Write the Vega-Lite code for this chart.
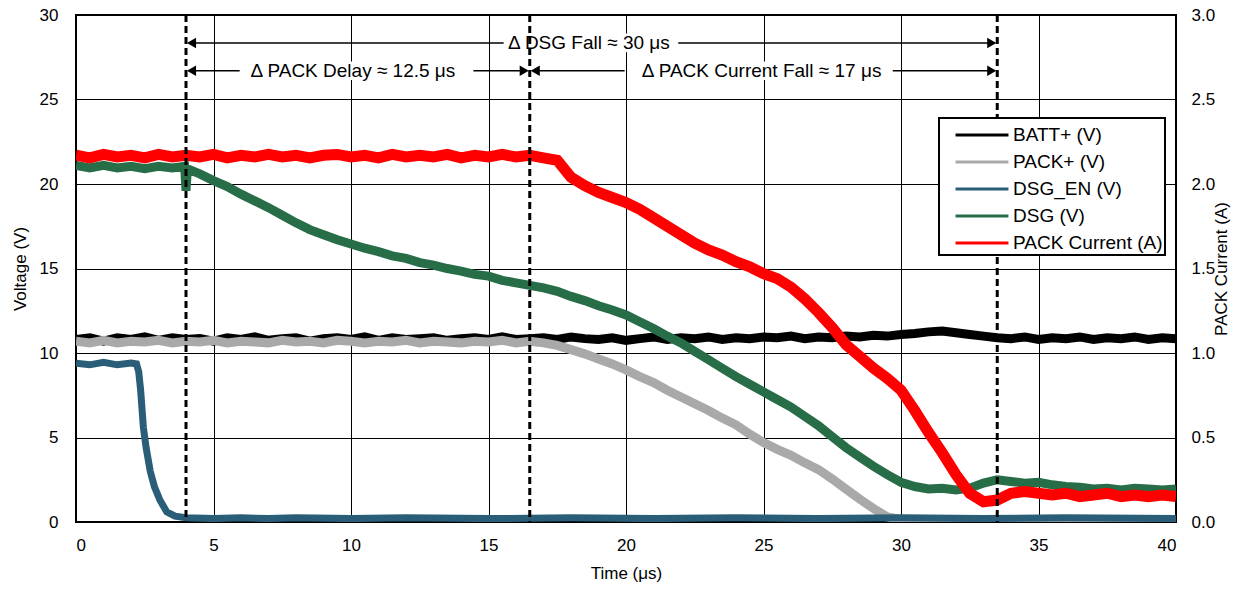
{
  "$schema": "https://vega.github.io/schema/vega-lite/v6.json",
  "width": 1100,
  "height": 507,
  "autosize": {"type": "none"},
  "padding": {"left": 76, "top": 15, "right": 81, "bottom": 68},
  "config": {
    "font": "Liberation Sans",
    "view": {"stroke": "#000", "strokeWidth": 2},
    "axis": {
      "labelFont": "Liberation Sans", "titleFont": "Liberation Sans",
      "labelFontSize": 17, "titleFontSize": 17,
      "labelColor": "#000", "titleColor": "#000", "titleFontWeight": "normal",
      "ticks": false, "tickSize": 0, "domain": false,
      "gridColor": "#000", "gridOpacity": 1, "gridWidth": 1
    },
    "legend": {
      "orient": "none", "legendX": 863, "legendY": 103,
      "fillColor": "#fff", "strokeColor": "#000", "strokeWidth": 2,
      "padding": 2, "labelFontSize": 19, "labelFont": "Liberation Sans", "labelColor": "#000",
      "symbolType": "M-2,0H2", "symbolSize": 700, "symbolStrokeWidth": 3, "symbolOffset": 26, "rowPadding": 2, "labelOffset": 16
    }
  },
  "datasets": {
    "batt": [
      {"t":0,"v":10.8},{"t":0.5,"v":10.9},{"t":1,"v":10.7},{"t":1.5,"v":10.9},{"t":2,"v":10.8},{"t":2.5,"v":10.95},{"t":3,"v":10.75},{"t":3.5,"v":10.9},{"t":4,"v":10.8},{"t":4.5,"v":10.85},
      {"t":5,"v":10.7},{"t":5.5,"v":10.9},{"t":6,"v":10.8},{"t":6.5,"v":10.95},{"t":7,"v":10.75},{"t":7.5,"v":10.85},{"t":8,"v":10.9},{"t":8.5,"v":10.7},{"t":9,"v":10.85},{"t":9.5,"v":10.9},
      {"t":10,"v":10.8},{"t":10.5,"v":10.95},{"t":11,"v":10.75},{"t":11.5,"v":10.9},{"t":12,"v":10.8},{"t":12.5,"v":10.85},{"t":13,"v":10.9},{"t":13.5,"v":10.75},{"t":14,"v":10.85},{"t":14.5,"v":10.9},
      {"t":15,"v":10.8},{"t":15.5,"v":10.95},{"t":16,"v":10.8},{"t":16.5,"v":10.85},{"t":17,"v":10.9},{"t":17.5,"v":10.8},{"t":18,"v":10.95},{"t":18.5,"v":10.85},{"t":19,"v":10.8},{"t":19.5,"v":10.9},
      {"t":20,"v":10.75},{"t":20.5,"v":10.85},{"t":21,"v":10.95},{"t":21.5,"v":10.8},{"t":22,"v":10.9},{"t":22.5,"v":10.85},{"t":23,"v":10.95},{"t":23.5,"v":10.8},{"t":24,"v":10.9},{"t":24.5,"v":10.85},
      {"t":25,"v":10.95},{"t":25.5,"v":10.9},{"t":26,"v":11.0},{"t":26.5,"v":10.85},{"t":27,"v":10.95},{"t":27.5,"v":10.9},{"t":28,"v":11.0},{"t":28.5,"v":10.95},{"t":29,"v":11.05},{"t":29.5,"v":11.0},
      {"t":30,"v":11.1},{"t":30.5,"v":11.15},{"t":31,"v":11.25},{"t":31.5,"v":11.3},{"t":32,"v":11.2},{"t":32.5,"v":11.1},{"t":33,"v":11.0},{"t":33.5,"v":10.9},{"t":34,"v":10.85},{"t":34.5,"v":10.95},
      {"t":35,"v":10.8},{"t":35.5,"v":10.9},{"t":36,"v":10.85},{"t":36.5,"v":10.95},{"t":37,"v":10.8},{"t":37.5,"v":10.9},{"t":38,"v":10.85},{"t":38.5,"v":10.95},{"t":39,"v":10.8},{"t":39.5,"v":10.9},{"t":40,"v":10.85}
    ],
    "pack": [
      {"t":0,"v":10.7},{"t":0.5,"v":10.6},{"t":1,"v":10.75},{"t":1.5,"v":10.6},{"t":2,"v":10.7},{"t":2.5,"v":10.65},{"t":3,"v":10.75},{"t":3.5,"v":10.6},{"t":4,"v":10.7},{"t":4.5,"v":10.65},
      {"t":5,"v":10.75},{"t":5.5,"v":10.6},{"t":6,"v":10.7},{"t":6.5,"v":10.65},{"t":7,"v":10.6},{"t":7.5,"v":10.75},{"t":8,"v":10.65},{"t":8.5,"v":10.7},{"t":9,"v":10.6},{"t":9.5,"v":10.75},
      {"t":10,"v":10.7},{"t":10.5,"v":10.6},{"t":11,"v":10.7},{"t":11.5,"v":10.65},{"t":12,"v":10.75},{"t":12.5,"v":10.6},{"t":13,"v":10.7},{"t":13.5,"v":10.65},{"t":14,"v":10.6},{"t":14.5,"v":10.7},
      {"t":15,"v":10.65},{"t":15.5,"v":10.75},{"t":16,"v":10.6},{"t":16.5,"v":10.7},{"t":17,"v":10.6},{"t":17.5,"v":10.45},{"t":18,"v":10.2},{"t":18.5,"v":9.95},{"t":19,"v":9.65},{"t":19.5,"v":9.35},
      {"t":20,"v":9.0},{"t":20.5,"v":8.6},{"t":21,"v":8.25},{"t":21.5,"v":7.8},{"t":22,"v":7.4},{"t":22.5,"v":7.0},{"t":23,"v":6.6},{"t":23.5,"v":6.15},{"t":24,"v":5.75},{"t":24.5,"v":5.2},
      {"t":25,"v":4.7},{"t":25.5,"v":4.3},{"t":26,"v":3.95},{"t":26.5,"v":3.5},{"t":27,"v":3.1},{"t":27.5,"v":2.55},{"t":28,"v":1.95},{"t":28.5,"v":1.35},{"t":29,"v":0.8},{"t":29.5,"v":0.3},
      {"t":30,"v":0.15},{"t":35,"v":0.15},{"t":40,"v":0.15}
    ],
    "en": [
      {"t":0,"v":9.4},{"t":0.5,"v":9.3},{"t":1,"v":9.45},{"t":1.5,"v":9.3},{"t":2,"v":9.4},{"t":2.2,"v":9.35},{"t":2.28,"v":8.9},{"t":2.35,"v":7.8},{"t":2.45,"v":5.6},{"t":2.55,"v":4.4},
      {"t":2.7,"v":3.0},{"t":2.85,"v":2.1},{"t":3.05,"v":1.3},{"t":3.3,"v":0.6},{"t":3.6,"v":0.35},{"t":4,"v":0.25},{"t":5,"v":0.2},{"t":6,"v":0.25},{"t":7,"v":0.2},{"t":8,"v":0.25},
      {"t":10,"v":0.2},{"t":12,"v":0.25},{"t":15,"v":0.2},{"t":18,"v":0.25},{"t":21,"v":0.2},{"t":24,"v":0.25},{"t":27,"v":0.2},{"t":30,"v":0.25},{"t":33,"v":0.2},{"t":36,"v":0.25},{"t":40,"v":0.2}
    ],
    "dsg": [
      {"t":0,"v":21.1},{"t":0.5,"v":20.95},{"t":1,"v":21.1},{"t":1.5,"v":20.95},{"t":2,"v":21.05},{"t":2.5,"v":20.9},{"t":3,"v":21.05},{"t":3.5,"v":20.95},{"t":3.95,"v":21.05},{"t":4.0,"v":19.6},
      {"t":4.05,"v":20.9},{"t":4.5,"v":20.6},{"t":5,"v":20.2},{"t":5.5,"v":19.85},{"t":6,"v":19.4},{"t":6.5,"v":19.0},{"t":7,"v":18.6},{"t":7.5,"v":18.15},{"t":8,"v":17.7},{"t":8.5,"v":17.3},
      {"t":9,"v":17.0},{"t":9.5,"v":16.7},{"t":10,"v":16.45},{"t":10.5,"v":16.2},{"t":11,"v":16.0},{"t":11.5,"v":15.75},{"t":12,"v":15.6},{"t":12.5,"v":15.35},{"t":13,"v":15.2},{"t":13.5,"v":15.0},
      {"t":14,"v":14.85},{"t":14.5,"v":14.65},{"t":15,"v":14.55},{"t":15.5,"v":14.3},{"t":16,"v":14.15},{"t":16.5,"v":14.0},{"t":17,"v":13.85},{"t":17.5,"v":13.65},{"t":18,"v":13.35},{"t":18.5,"v":13.1},
      {"t":19,"v":12.8},{"t":19.5,"v":12.55},{"t":20,"v":12.25},{"t":20.5,"v":11.85},{"t":21,"v":11.45},{"t":21.5,"v":11.0},{"t":22,"v":10.6},{"t":22.5,"v":10.1},{"t":23,"v":9.6},{"t":23.5,"v":9.1},
      {"t":24,"v":8.6},{"t":24.5,"v":8.15},{"t":25,"v":7.7},{"t":25.5,"v":7.25},{"t":26,"v":6.8},{"t":26.5,"v":6.25},{"t":27,"v":5.7},{"t":27.5,"v":5.05},{"t":28,"v":4.4},{"t":28.5,"v":3.85},
      {"t":29,"v":3.3},{"t":29.5,"v":2.8},{"t":30,"v":2.35},{"t":30.5,"v":2.1},{"t":31,"v":1.95},{"t":31.5,"v":2.0},{"t":32,"v":1.9},{"t":32.5,"v":2.0},{"t":33,"v":2.3},{"t":33.5,"v":2.5},
      {"t":34,"v":2.4},{"t":34.5,"v":2.3},{"t":35,"v":2.35},{"t":35.5,"v":2.2},{"t":36,"v":2.1},{"t":36.5,"v":2.05},{"t":37,"v":1.95},{"t":37.5,"v":2.0},{"t":38,"v":1.9},{"t":38.5,"v":2.0},
      {"t":39,"v":1.95},{"t":39.5,"v":1.9},{"t":40,"v":1.95}
    ],
    "cur": [
      {"t":0,"v":2.17},{"t":0.5,"v":2.155},{"t":1,"v":2.175},{"t":1.5,"v":2.16},{"t":2,"v":2.17},{"t":2.5,"v":2.155},{"t":3,"v":2.175},{"t":3.5,"v":2.16},{"t":4,"v":2.17},{"t":4.5,"v":2.16},
      {"t":5,"v":2.175},{"t":5.5,"v":2.155},{"t":6,"v":2.17},{"t":6.5,"v":2.16},{"t":7,"v":2.175},{"t":7.5,"v":2.16},{"t":8,"v":2.17},{"t":8.5,"v":2.155},{"t":9,"v":2.17},{"t":9.5,"v":2.175},
      {"t":10,"v":2.16},{"t":10.5,"v":2.17},{"t":11,"v":2.155},{"t":11.5,"v":2.175},{"t":12,"v":2.16},{"t":12.5,"v":2.17},{"t":13,"v":2.16},{"t":13.5,"v":2.175},{"t":14,"v":2.155},{"t":14.5,"v":2.17},
      {"t":15,"v":2.16},{"t":15.5,"v":2.175},{"t":16,"v":2.16},{"t":16.5,"v":2.17},{"t":17,"v":2.155},{"t":17.5,"v":2.14},{"t":18,"v":2.04},{"t":18.5,"v":1.99},{"t":19,"v":1.95},{"t":19.5,"v":1.92},
      {"t":20,"v":1.89},{"t":20.5,"v":1.85},{"t":21,"v":1.8},{"t":21.5,"v":1.75},{"t":22,"v":1.7},{"t":22.5,"v":1.65},{"t":23,"v":1.61},{"t":23.5,"v":1.58},{"t":24,"v":1.54},{"t":24.5,"v":1.51},
      {"t":25,"v":1.47},{"t":25.5,"v":1.44},{"t":26,"v":1.39},{"t":26.5,"v":1.32},{"t":27,"v":1.24},{"t":27.5,"v":1.15},{"t":28,"v":1.05},{"t":28.5,"v":0.98},{"t":29,"v":0.91},{"t":29.5,"v":0.85},
      {"t":30,"v":0.78},{"t":30.5,"v":0.66},{"t":31,"v":0.53},{"t":31.5,"v":0.41},{"t":32,"v":0.28},{"t":32.5,"v":0.17},{"t":33,"v":0.12},{"t":33.5,"v":0.13},{"t":34,"v":0.17},{"t":34.5,"v":0.18},
      {"t":35,"v":0.17},{"t":35.5,"v":0.16},{"t":36,"v":0.17},{"t":36.5,"v":0.15},{"t":37,"v":0.16},{"t":37.5,"v":0.17},{"t":38,"v":0.15},{"t":38.5,"v":0.16},{"t":39,"v":0.15},{"t":39.5,"v":0.16},{"t":40,"v":0.15}
    ],
    "vl": [{"t":4},{"t":16.5},{"t":33.5}],
    "seg": [
      {"t":4.1,"t2":15.55,"v":28.35},{"t":21.9,"t2":33.4,"v":28.35},
      {"t":4.1,"t2":5.95,"v":26.7},{"t":14.45,"t2":16.4,"v":26.7},
      {"t":16.6,"t2":19.95,"v":26.7},{"t":29.7,"t2":33.4,"v":26.7}
    ],
    "heads": [
      {"t":4.2,"v":28.35,"dir":"L"},{"t":33.3,"v":28.35,"dir":"R"},
      {"t":4.2,"v":26.7,"dir":"L"},{"t":16.3,"v":26.7,"dir":"R"},
      {"t":16.7,"v":26.7,"dir":"L"},{"t":33.3,"v":26.7,"dir":"R"}
    ],
    "labels": [
      {"t":18.65,"v":28.35,"label":"Δ DSG Fall ≈ 30 μs"},
      {"t":10.07,"v":26.7,"label":"Δ PACK Delay ≈ 12.5 μs"},
      {"t":24.93,"v":26.7,"label":"Δ PACK Current Fall ≈ 17 μs"}
    ],
    "boxes": [
      {"t":15.6,"t2":21.8,"v":27.8,"v2":28.9},
      {"t":6.05,"t2":14.15,"v":26.15,"v2":27.25},
      {"t":20.4,"t2":29.5,"v":26.15,"v2":27.25}
    ]
  },
  "encoding": {
    "x": {
      "field": "t", "type": "quantitative",
      "scale": {"domain": [0, 40], "nice": false},
      "axis": {"values": [0, 5, 10, 15, 20, 25, 30, 35, 40], "title": "Time (μs)", "labelPadding": 15, "titlePadding": 12}
    }
  },
  "layer": [
    {
      "encoding": {
        "y": {
          "field": "v", "type": "quantitative",
          "scale": {"domain": [0, 30], "nice": false},
          "axis": {"values": [0, 5, 10, 15, 20, 25, 30], "title": "Voltage (V)", "labelPadding": 18, "titlePadding": 10}
        }
      },
      "layer": [
        {"data": {"name": "boxes"}, "mark": {"type": "rect", "fill": "#fff"}, "encoding": {"x2": {"field": "t2"}, "y2": {"field": "v2"}}},
        {"data": {"name": "batt"}, "mark": {"type": "line", "strokeWidth": 9, "clip": true},
         "encoding": {"color": {"datum": "BATT+ (V)", "scale": {"domain": ["BATT+ (V)", "PACK+ (V)", "DSG_EN (V)", "DSG (V)", "PACK Current (A)"], "range": ["#000000", "#a9a9a9", "#2a5e78", "#276d48", "#ff0000"]}, "legend": {"title": null}}}},
        {"data": {"name": "pack"}, "mark": {"type": "line", "strokeWidth": 9, "clip": true}, "encoding": {"color": {"datum": "PACK+ (V)"}}},
        {"data": {"name": "en"}, "mark": {"type": "line", "strokeWidth": 7, "clip": true}, "encoding": {"color": {"datum": "DSG_EN (V)"}}},
        {"data": {"name": "dsg"}, "mark": {"type": "line", "strokeWidth": 9, "clip": true}, "encoding": {"color": {"datum": "DSG (V)"}}},
        {"data": {"name": "seg"}, "mark": {"type": "rule", "color": "#000", "strokeWidth": 1.5}, "encoding": {"x2": {"field": "t2"}}},
        {"data": {"name": "heads"}, "mark": {"type": "point", "filled": true, "color": "#000", "opacity": 1, "size": 110, "strokeWidth": 0},
         "encoding": {"shape": {"field": "dir", "type": "nominal", "scale": {"domain": ["L", "R"], "range": ["triangle-left", "triangle-right"]}, "legend": null}}},
        {"data": {"name": "labels"}, "mark": {"type": "text", "fontSize": 19, "font": "Liberation Sans", "color": "#000", "align": "center", "baseline": "middle"},
         "encoding": {"text": {"field": "label"}}}
      ]
    },
    {
      "layer": [
        {"data": {"name": "cur"}, "mark": {"type": "line", "strokeWidth": 11, "clip": true},
         "encoding": {
           "y": {"field": "v", "type": "quantitative", "scale": {"domain": [0, 3], "nice": false},
                 "axis": {"orient": "right", "values": [0, 0.5, 1, 1.5, 2, 2.5, 3], "format": ".1f", "title": "PACK Current (A)", "grid": false, "titleAngle": 270, "labelPadding": 15, "titlePadding": 16}},
           "color": {"datum": "PACK Current (A)"}
         }},
        {"data": {"name": "vl"}, "mark": {"type": "rule", "color": "#000", "strokeWidth": 3, "strokeDash": [7, 4]}, "encoding": {}}
      ]
    }
  ],
  "resolve": {"scale": {"y": "independent"}}
}
